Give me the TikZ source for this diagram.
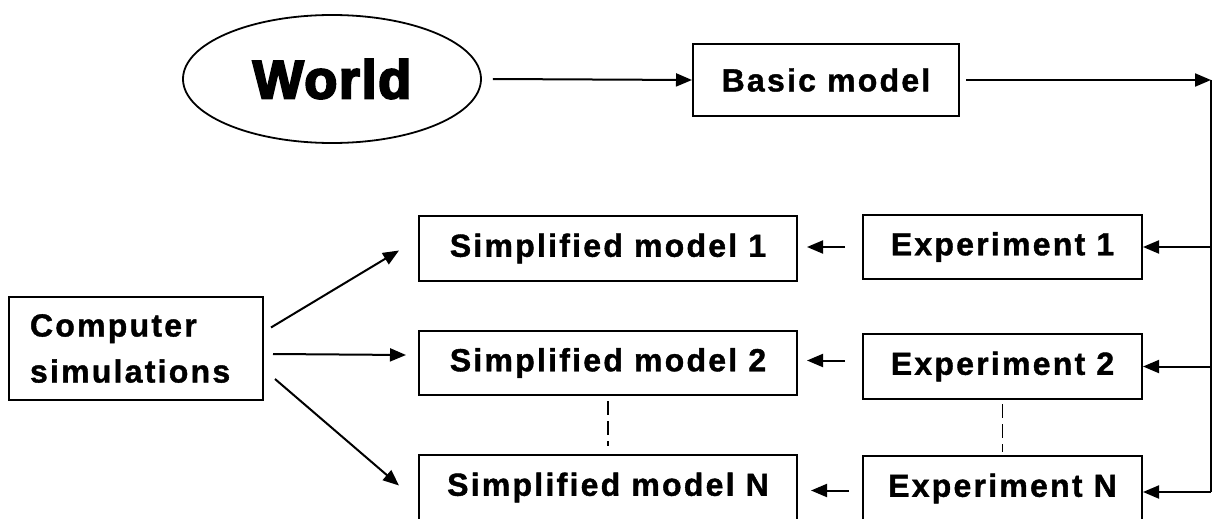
\documentclass[tikz,border=0pt]{standalone}
\usepackage{fontspec}
\usetikzlibrary{shapes.geometric,arrows.meta}
\newfontfamily\labelfont{Liberation Sans}[LetterSpace=7,FakeBold=1.2]
\newfontfamily\worldfont{Liberation Sans}[FakeBold=4,LetterSpace=3]
\begin{document}
\begin{tikzpicture}[x=1pt,y=-1pt,
  every node/.style={inner sep=0pt},
  stepbox/.style={draw=black,line width=2pt,fill=white,
    font=\labelfont\bfseries\fontsize{32}{46}\selectfont},
  arr/.style={draw=black,line width=2pt,
    -{Triangle[length=16pt,width=13pt]}},
  link/.style={draw=black,line width=2pt},
  dots/.style={draw=black,line width=1.4pt,dash pattern=on 14pt off 6pt}]
\useasboundingbox (0,0) rectangle (1213,519);
\clip (0,0) rectangle (1213,519);

% top row
\node[ellipse,draw=black,line width=1.8pt,minimum width=298pt,minimum height=128pt,
  font=\worldfont\bfseries\fontsize{54}{60}\selectfont] (world) at (332,79) {World};
\node[stepbox,minimum width=266pt,minimum height=72pt] (basic) at (826,80) {Basic model};
\coordinate (tr) at (1211,80);
\coordinate (br) at (1211,492);

% experiments
\node[stepbox,minimum width=279pt,minimum height=64pt] (e1) at (1002.5,247) {Experiment 1};
\node[stepbox,minimum width=279pt,minimum height=65pt] (e2) at (1002.5,366.5) {Experiment 2};
\node[stepbox,minimum width=279pt,minimum height=65pt] (eN) at (1002.5,488.5) {Experiment N};

% simplified models
\node[stepbox,minimum width=378pt,minimum height=65pt] (s1) at (608,248.5) {Simplified model 1};
\node[stepbox,minimum width=378pt,minimum height=64pt] (s2) at (608,363) {Simplified model 2};
\node[stepbox,minimum width=378pt,minimum height=65pt] (sN) at (608,487.5) {Simplified model N};

% simulations
\node[stepbox,minimum width=254pt,minimum height=103pt,text width=212pt,
  inner xsep=21pt,align=left] (cs) at (136,348.5) {Computer\\simulations};

% connectors along the top and down the right side
\draw[arr] ([xshift=11pt]world.east) -- (basic.west);
\draw[arr] ([xshift=6pt]basic.east) -- (tr);
\draw[link] (tr) -- (br);
\draw[arr] (e1.east -| tr) -- (e1.east);
\draw[arr] (e2.east -| tr) -- (e2.east);
\draw[arr] (br) -- (br -| eN.east);

% experiments feed the simplified models
\draw[arr] ([xshift=-17pt]e1.west) -- ([xshift=9pt]e1.west -| s1.east);
\draw[arr] ([shift={(-17,-6)}]e2.west) -- ([shift={(9,-6)}]e2.west -| s2.east);
\draw[arr] ([shift={(-13,2)}]eN.west) -- ([shift={(13,2)}]eN.west -| sN.east);

% simulations fan out
\draw[arr] ([shift={(7,-21)}]cs.east) -- ([shift={(-19,2)}]s1.west);
\draw[arr] ([shift={(9,5.5)}]cs.east) -- ([shift={(-12,-8)}]s2.west);
\draw[arr] ([shift={(11,30.5)}]cs.east) -- ([shift={(-19,-2)}]sN.west);

% continuation marks between 2 and N
\draw[dots] ([yshift=-5pt]s2.south) -- ([yshift=8pt]sN.north);
\draw[dots] ([yshift=-4pt]e2.south) -- ([yshift=3pt]eN.north);
\end{tikzpicture}
\end{document}
